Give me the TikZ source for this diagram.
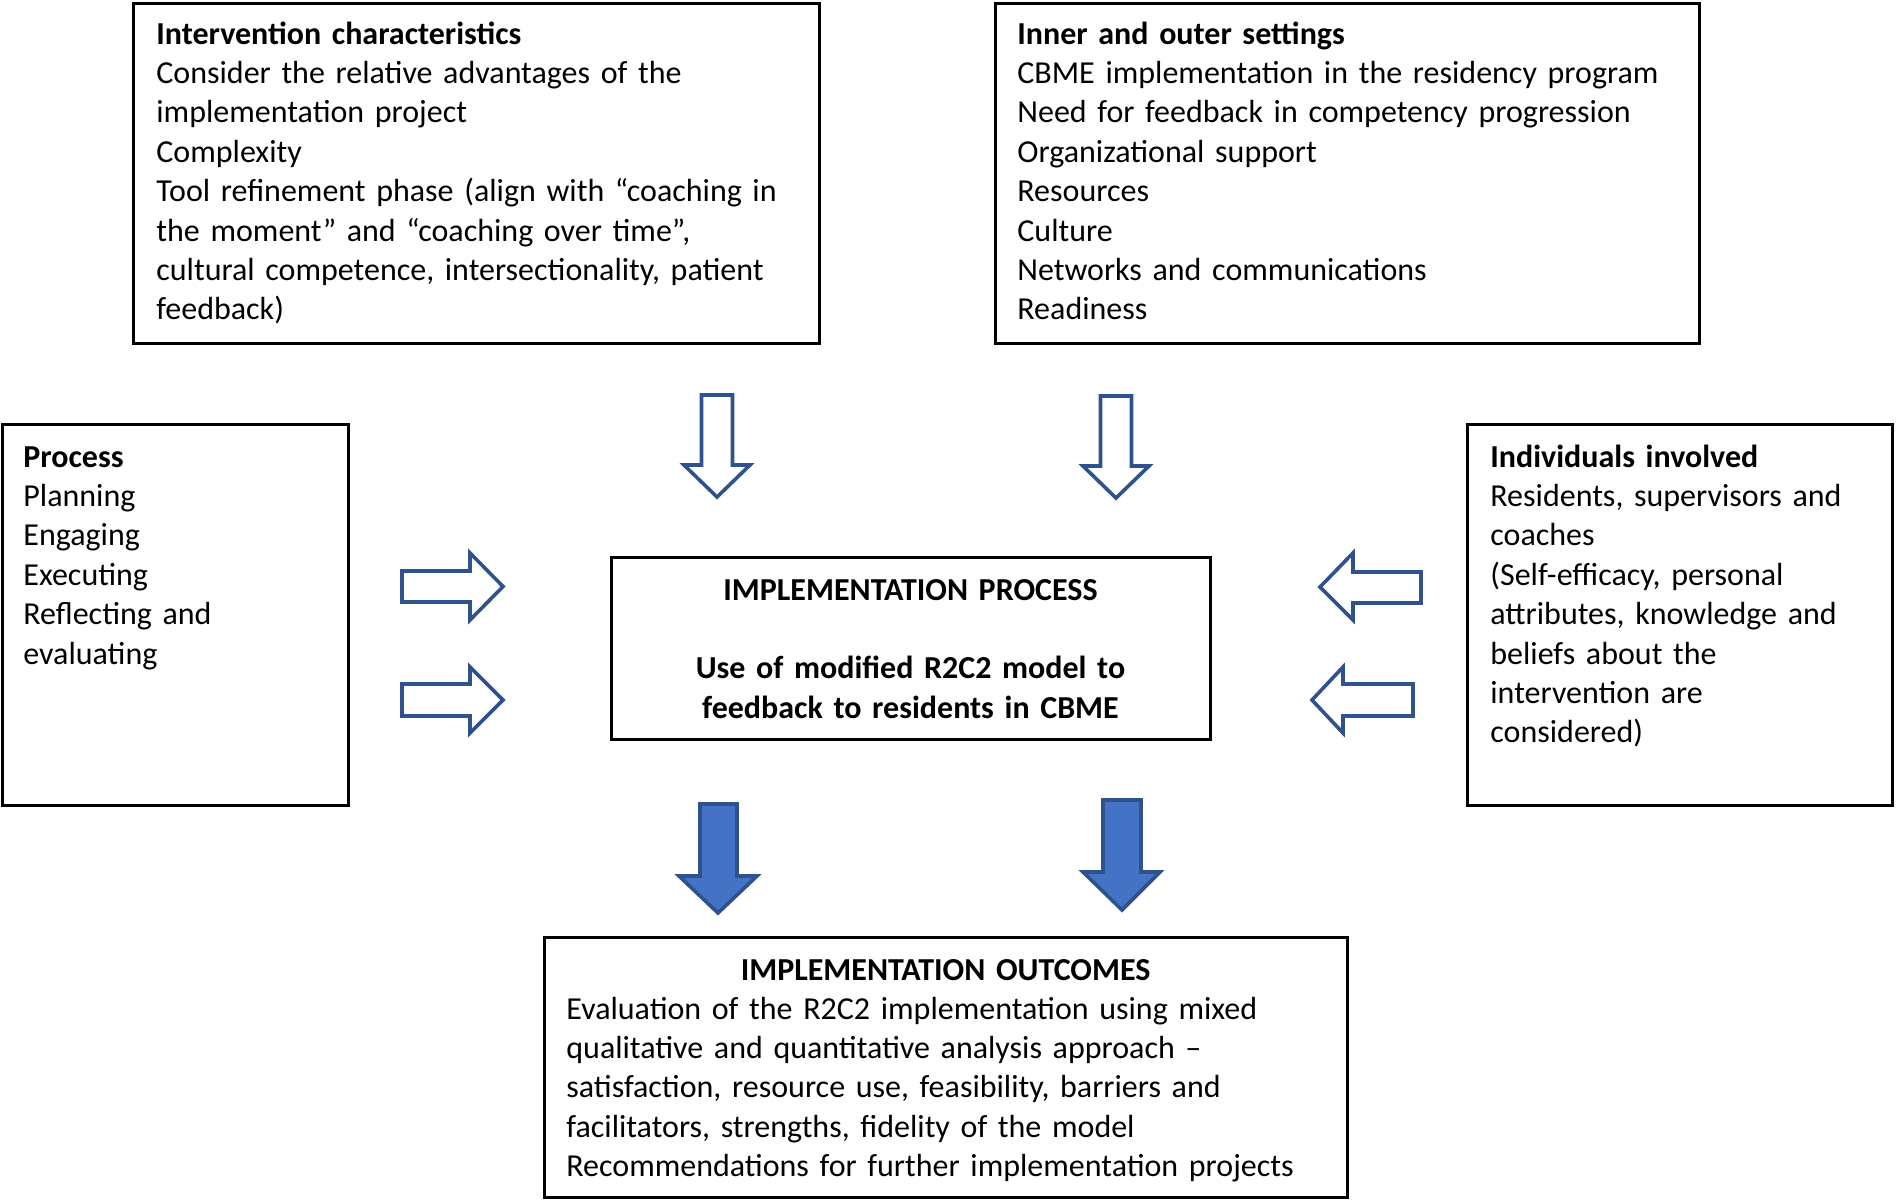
\documentclass[tikz,border=0pt]{standalone}
\usepackage{fontspec}
\setmainfont{Carlito}
\definecolor{arrowline}{HTML}{2F528F}
\definecolor{arrowfill}{HTML}{4472C4}
\begin{document}
\begin{tikzpicture}[x=0.5pt,y=-0.5pt,
  box/.style={draw=black,line width=1.5pt,inner sep=0pt},
  txt/.style={inner sep=0pt,anchor=base west,text width=420pt,align=left,
    font=\fontsize{16}{19.7}\selectfont},
  ctxt/.style={inner sep=0pt,anchor=base,text width=380pt,align=center,
    font=\fontsize{16}{19.7}\selectfont\bfseries},
  hollow/.style={draw=arrowline,line width=1.8pt,fill=white,line join=miter},
  solid/.style={draw=arrowline,line width=1.8pt,fill=arrowfill,line join=miter}]
\useasboundingbox[fill=white] (0,0) rectangle (1896,1200);

% boxes
\draw[box] (133,3) rectangle (819,343);
\draw[box] (995,3) rectangle (1699,343);
\draw[box] (2,424) rectangle (348,805);
\draw[box] (1467,424) rectangle (1892,805);
\draw[box] (611,557) rectangle (1210,739);
\draw[box] (544,937) rectangle (1347,1197);

% texts
\node[txt] (inter) at (156,44) {\textbf{Intervention characteristics}\\
Consider the relative advantages of the\\
implementation project\\
Complexity\\
Tool refinement phase (align with “coaching in\\
the moment” and “coaching over time”,\\
cultural competence, intersectionality, patient\\
feedback)};

\node[txt] (inner) at (1017,44) {\textbf{Inner and outer settings}\\
CBME implementation in the residency program\\
Need for feedback in competency progression\\
Organizational support\\
Resources\\
Culture\\
Networks and communications\\
Readiness};

\node[txt] (proc) at (23,467) {\textbf{Process}\\
Planning\\
Engaging\\
Executing\\
Reflecting and\\
evaluating};

\node[txt] (indiv) at (1490,467) {\textbf{Individuals involved}\\
Residents, supervisors and\\
coaches\\
(Self-efficacy, personal\\
attributes, knowledge and\\
beliefs about the\\
intervention are\\
considered)};

\node[ctxt] (impl) at (910.5,600) {IMPLEMENTATION PROCESS\\[19.7pt]
Use of modified R2C2 model to\\
feedback to residents in CBME};

\node[ctxt] (outt) at (945.6,980) {IMPLEMENTATION OUTCOMES};
\node[txt] (outb) at (566,1019) {Evaluation of the R2C2 implementation using mixed\\
qualitative and quantitative analysis approach –\\
satisfaction, resource use, feasibility, barriers and\\
facilitators, strengths, fidelity of the model\\
Recommendations for further implementation projects};

% hollow down arrows
\draw[hollow] (701.5,395) -- (732.5,395) -- (732.5,465) -- (750,465) -- (717,497) -- (684,465) -- (701.5,465) -- cycle;
\draw[hollow] (1100.5,396) -- (1131.5,396) -- (1131.5,466) -- (1149,466) -- (1116,498) -- (1083,466) -- (1100.5,466) -- cycle;

% hollow right arrows
\draw[hollow] (402,571) -- (470,571) -- (470,553) -- (503,586.5) -- (470,620) -- (470,602) -- (402,602) -- cycle;
\draw[hollow] (402,684) -- (470,684) -- (470,667) -- (503,700) -- (470,733) -- (470,716) -- (402,716) -- cycle;

% hollow left arrows
\draw[hollow] (1421,572) -- (1353,572) -- (1353,553) -- (1320,587) -- (1353,620) -- (1353,603) -- (1421,603) -- cycle;
\draw[hollow] (1413,684) -- (1343,684) -- (1343,667) -- (1312,700) -- (1343,733) -- (1343,716) -- (1413,716) -- cycle;

% solid down arrows
\draw[solid] (700,804) -- (737,804) -- (737,876) -- (757,876) -- (718,913) -- (679,876) -- (700,876) -- cycle;
\draw[solid] (1103,800) -- (1141,800) -- (1141,872) -- (1160,872) -- (1122,910) -- (1083,872) -- (1103,872) -- cycle;
\end{tikzpicture}
\end{document}
